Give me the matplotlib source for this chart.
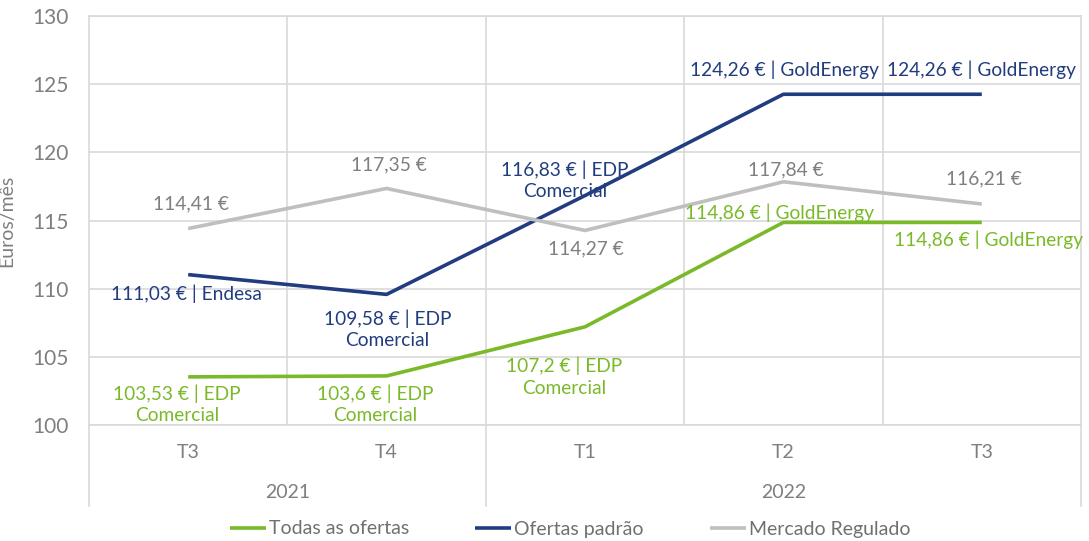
import matplotlib

matplotlib.use("Agg")
import matplotlib.pyplot as plt  # noqa: E402
from matplotlib.lines import Line2D  # noqa: E402

plt.rcParams["font.family"] = ["Lato", "DejaVu Sans"]

# ---- data ----
quarters = ["T3", "T4", "T1", "T2", "T3"]
years = ["2021", "2022"]
year_spans = [(0, 1), (2, 4)]  # first/last quarter index per year

todas = [103.53, 103.60, 107.20, 114.86, 114.86]
padrao = [111.03, 109.58, 116.83, 124.26, 124.26]
regulado = [114.41, 117.35, 114.27, 117.84, 116.21]

todas_lbl = ["103,53 € | EDP\nComercial", "103,6 € | EDP\nComercial", "107,2 € | EDP\nComercial",
             "114,86 € | GoldEnergy", "114,86 € | GoldEnergy"]
padrao_lbl = ["111,03 € | Endesa", "109,58 € | EDP\nComercial", "116,83 € | EDP\nComercial",
              "124,26 € | GoldEnergy", "124,26 € | GoldEnergy"]
regulado_lbl = ["114,41 €", "117,35 €", "114,27 €", "117,84 €", "116,21 €"]

GREEN = "#7ab929"
NAVY = "#213d80"
LGRAY = "#bfbfbf"
TGRAY = "#7f7f7f"
GRID = "#d9d9d9"

# label offsets in pixels (dx, dy) relative to the point, y up
todas_off = [(-11, -27), (-11, -28), (-21, -50), (-4, 10), (7, -17)]
padrao_off = [(-2, -19), (1, -35), (-20, 15), (1, 25), (0, 25)]
regulado_off = [(3, 25), (2, 24), (1, -18), (2, 12), (2, 25)]

W, H = 1089, 541
fig = plt.figure(figsize=(W / 100, H / 100), dpi=100)
ax = fig.add_axes([89 / W, (H - 425) / H, (1081 - 89) / W, (425 - 16) / H])

x = list(range(len(quarters)))
ax.set_xlim(-0.5, len(quarters) - 0.5)
ax.set_ylim(100, 130)
ax.set_yticks(range(100, 131, 5))
ax.set_xticks([])
ax.tick_params(axis="y", length=0, pad=15, labelsize=15, labelcolor=TGRAY)
ax.grid(axis="y", color=GRID, lw=1.2)
for xv in [i + 0.5 for i in range(len(quarters) - 1)]:
    ax.axvline(xv, color=GRID, lw=1.2, zorder=0)
for s in ax.spines.values():
    s.set_color(GRID)
    s.set_linewidth(1.2)
ax.set_axisbelow(True)
ax.set_ylabel("Euros/mês", fontsize=14, color=TGRAY)
ax.yaxis.set_label_coords(-74 / 992, 0.5)

series = [
    (todas, todas_lbl, todas_off, GREEN, GREEN, "Todas as ofertas"),
    (padrao, padrao_lbl, padrao_off, NAVY, NAVY, "Ofertas padrão"),
    (regulado, regulado_lbl, regulado_off, LGRAY, TGRAY, "Mercado Regulado"),
]
handles = []
for vals, lbls, offs, lc, tc, name in series:
    ln, = ax.plot(x, vals, color=lc, lw=2.6, solid_capstyle="butt", label=name)
    handles.append(ln)
    for xi, v, t, (dx, dy) in zip(x, vals, lbls, offs):
        ax.annotate(t, (xi, v), xytext=(dx, dy), textcoords="offset pixels",
                    ha="center", va="center", color=tc, fontsize=13.8,
                    linespacing=1.3, annotation_clip=False)

# multi-level category axis below the plot
tr = ax.get_xaxis_transform()
ah = 425 - 16
for i, q in enumerate(quarters):
    ax.text(i, -27 / ah, q, transform=tr, ha="center", va="center",
            fontsize=14, color=TGRAY)
for yr, (a, b) in zip(years, year_spans):
    ax.text((a + b) / 2, -67 / ah, yr, transform=tr, ha="center", va="center",
            fontsize=14, color=TGRAY)
for xv in [-0.5, 1.5, len(quarters) - 0.5]:
    ax.add_line(Line2D([xv, xv], [0, -81 / ah], transform=tr, color=GRID,
                       lw=1.2, clip_on=False))

fig.legend(handles=handles, loc="center", bbox_to_anchor=(570 / W, 12 / H),
           ncol=3, frameon=False, fontsize=14, labelcolor="#707070",
           handlelength=1.85, handletextpad=0.15, columnspacing=3.4)

fig.savefig("out.png", dpi=100)
